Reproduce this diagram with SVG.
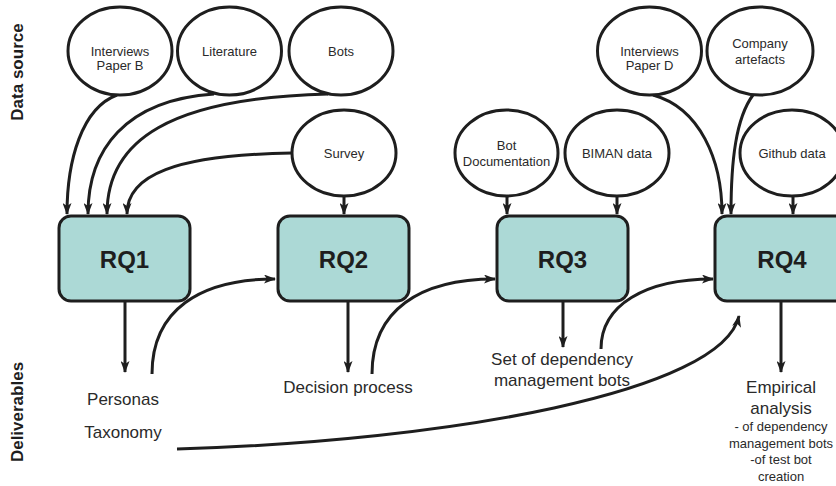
<svg xmlns="http://www.w3.org/2000/svg" width="836" height="486" viewBox="0 0 836 486">
  <defs>
    <marker id="arrow" viewBox="0 0 12 9" refX="11" refY="4.5" markerWidth="12" markerHeight="9" markerUnits="userSpaceOnUse" orient="auto">
      <path d="M0,0 L12,4.5 L0,9 L3,4.5 z" fill="#1e1e1e"/>
    </marker>
    <style>
      .src ellipse { fill: #ffffff; stroke: #1e1e1e; stroke-width: 3; }
      .src text { font-family: "Liberation Sans", Arial, sans-serif; font-size: 13px; fill: #2a2a2a; text-anchor: middle; }
      .rq rect { fill: #acd9d6; stroke: #1e1e1e; stroke-width: 3; }
      .rq text { font-family: "Liberation Sans", Arial, sans-serif; font-size: 24px; font-weight: bold; fill: #1e1e1e; text-anchor: middle; }
      .del text { font-family: "Liberation Sans", Arial, sans-serif; font-size: 17px; fill: #2a2a2a; text-anchor: middle; }
      .del text.small { font-size: 13px; }
      .lane { font-family: "Liberation Sans", Arial, sans-serif; font-size: 17px; font-weight: bold; fill: #1e1e1e; text-anchor: middle; }
      .edges path { fill: none; stroke: #1e1e1e; stroke-width: 3; }
      .edges .arr { marker-end: url(#arrow); }
    </style>
  </defs>

  <!-- lane labels -->
  <text class="lane" transform="translate(23,72) rotate(-90)">Data source</text>
  <text class="lane" transform="translate(23,412) rotate(-90)">Deliverables</text>

  <!-- connectors -->
  <g id="connectors" class="edges">
    <!-- sources into RQ1 -->
    <path class="arr" d="M117,95 C82,108 67,160 67,214"/>
    <path class="arr" d="M214,94 C125,100 88,150 88,214"/>
    <path class="arr" d="M328,94 C170,98 107,140 107,214"/>
    <path class="arr" d="M292,153 C175,155 127,175 127,214"/>
    <!-- sources into RQ2, RQ3 -->
    <path class="arr" d="M344,197 L344,214"/>
    <path class="arr" d="M507,197 L507,214"/>
    <path class="arr" d="M617,197 L617,214"/>
    <!-- sources into RQ4 -->
    <path class="arr" d="M653,95 C700,108 722,160 722,214"/>
    <path class="arr" d="M753,95 C736,118 731,160 731,214"/>
    <path class="arr" d="M793,197 L793,214"/>
    <!-- RQ to deliverables -->
    <path class="arr" d="M125,302 L125,372"/>
    <path class="arr" d="M348,302 L348,372"/>
    <path class="arr" d="M563,302 L563,347"/>
    <path class="arr" d="M781,302 L781,372"/>
    <!-- deliverables feeding next RQ -->
    <path class="arr" d="M152,374 C152,310 200,279 275,279"/>
    <path class="arr" d="M372,374 C372,310 420,279 495,279"/>
    <path class="arr" d="M601,349 C601,305 645,279 713,279"/>
    <path class="arr" d="M177,449 C450,441 722,392 739,316"/>
  </g>

  <!-- data sources -->
  <g id="src-interviews-b" class="src">
    <ellipse cx="120" cy="51" rx="52" ry="44"/>
    <text x="120" y="56">Interviews</text>
    <text x="120" y="70">Paper B</text>
  </g>
  <g id="src-literature" class="src">
    <ellipse cx="229.5" cy="51" rx="52" ry="44"/>
    <text x="229.5" y="56">Literature</text>
  </g>
  <g id="src-bots" class="src">
    <ellipse cx="341" cy="51" rx="52" ry="44"/>
    <text x="341" y="56">Bots</text>
  </g>
  <g id="src-survey" class="src">
    <ellipse cx="344" cy="153" rx="52" ry="43"/>
    <text x="344" y="158">Survey</text>
  </g>
  <g id="src-bot-doc" class="src">
    <ellipse cx="506.5" cy="153" rx="51.5" ry="43"/>
    <text x="506.5" y="150">Bot</text>
    <text x="506.5" y="166">Documentation</text>
  </g>
  <g id="src-biman" class="src">
    <ellipse cx="617" cy="153" rx="52" ry="43"/>
    <text x="617" y="158">BIMAN data</text>
  </g>
  <g id="src-interviews-d" class="src">
    <ellipse cx="649.5" cy="51" rx="52" ry="44"/>
    <text x="649.5" y="56">Interviews</text>
    <text x="649.5" y="70">Paper D</text>
  </g>
  <g id="src-company" class="src">
    <ellipse cx="760" cy="51" rx="53" ry="44"/>
    <text x="760" y="48">Company</text>
    <text x="760" y="64">artefacts</text>
  </g>
  <g id="src-github" class="src">
    <ellipse cx="792" cy="153" rx="52" ry="43"/>
    <text x="792" y="158">Github data</text>
  </g>

  <!-- research questions -->
  <g id="rq1" class="rq">
    <rect x="59" y="216" width="131" height="85" rx="12"/>
    <text x="124.5" y="268">RQ1</text>
  </g>
  <g id="rq2" class="rq">
    <rect x="278" y="216" width="131" height="85" rx="12"/>
    <text x="343.5" y="268">RQ2</text>
  </g>
  <g id="rq3" class="rq">
    <rect x="497" y="216" width="131" height="85" rx="12"/>
    <text x="562.5" y="268">RQ3</text>
  </g>
  <g id="rq4" class="rq">
    <rect x="715" y="216" width="134" height="85" rx="12"/>
    <text x="782" y="268">RQ4</text>
  </g>

  <!-- deliverables -->
  <g id="del-rq1" class="del">
    <text x="123" y="405">Personas</text>
    <text x="123" y="438">Taxonomy</text>
  </g>
  <g id="del-rq2" class="del">
    <text x="348" y="393">Decision process</text>
  </g>
  <g id="del-rq3" class="del">
    <text x="562" y="365">Set of dependency</text>
    <text x="562" y="386">management bots</text>
  </g>
  <g id="del-rq4" class="del">
    <text x="781" y="393">Empirical</text>
    <text x="781" y="414">analysis</text>
    <text class="small" x="781" y="431">- of dependency</text>
    <text class="small" x="781" y="448">management bots</text>
    <text class="small" x="781" y="464">-of test bot</text>
    <text class="small" x="781" y="481">creation</text>
  </g>
</svg>
